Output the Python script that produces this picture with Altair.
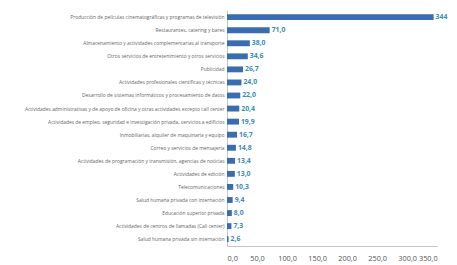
import altair as alt
import pandas as pd

categories = [
    "Producción de películas cinematográficas y programas de televisión",
    "Restaurantes, catering y bares",
    "Almacenamiento y actividades complementarias al transporte",
    "Otros servicios de entretenimiento y otros servicios",
    "Publicidad",
    "Actividades profesionales científicas y técnicas",
    "Desarrollo de sistemas informáticos y procesamiento de datos",
    "Actividades administrativas y de apoyo de oficina y otras actividades excepto call center",
    "Actividades de empleo, seguridad e investigación privada, servicios a edificios",
    "Inmobiliarias, alquiler de maquinaria y equipo",
    "Correo y servicios de mensajería",
    "Actividades de programación y transmisión,  agencias de noticias",
    "Actividades de edición",
    "Telecomunicaciones",
    "Salud humana privada con internación",
    "Educación superior privada",
    "Actividades de centros de llamadas (Call center)",
    "Salud humana privada sin internación",
]
values = [344, 71.0, 38.0, 34.6, 26.7, 24.0, 22.0, 20.4, 19.9, 16.7, 14.8, 13.4, 13.0, 10.3, 9.4, 8.0, 7.3, 2.6]
value_labels = ["344", "71,0", "38,0", "34,6", "26,7", "24,0", "22,0", "20,4", "19,9",
                "16,7", "14,8", "13,4", "13,0", "10,3", "9,4", "8,0", "7,3", "2,6"]
x_ticks = [0, 50, 100, 150, 200, 250, 300, 350]

df = pd.DataFrame({"cat": categories, "val": values, "lbl": value_labels})

y_enc = alt.Y(
    "cat:N", sort=None, title=None,
    scale=alt.Scale(paddingInner=0.55, paddingOuter=0.3),
    axis=alt.Axis(labelFontSize=5, labelColor="#666666", labelLimit=400, labelPadding=3,
                  ticks=False, domainColor="#c4c4c4", labelFont="Open Sans"),
)
x_enc = alt.X(
    "val:Q", title=None,
    scale=alt.Scale(domain=[0, 350], nice=False),
    axis=alt.Axis(values=x_ticks, labelExpr="replace(format(datum.value, '.1f'), '.', ',')",
                  labelFontSize=7.5, labelColor="#555555", labelPadding=9, ticks=False,
                  labelOverlap=False, grid=False, domainColor="#c4c4c4", labelFont="Open Sans"),
)

base = alt.Chart(df).encode(x=x_enc, y=y_enc)
bars = base.mark_bar(color="#3a6cb0")
text = base.mark_text(align="left", dx=2, fontSize=7, fontWeight="bold",
                      color="#3a8db5", font="Open Sans").encode(text="lbl:N")

chart = (bars + text).properties(
    width=214, height=240,
    autosize=alt.AutoSizeParams(type="none"),
    padding={"left": 223, "top": 0, "right": 12, "bottom": 18},
).configure_view(stroke=None)

chart.save("out.html", embed_options={"renderer": "svg", "actions": False})
